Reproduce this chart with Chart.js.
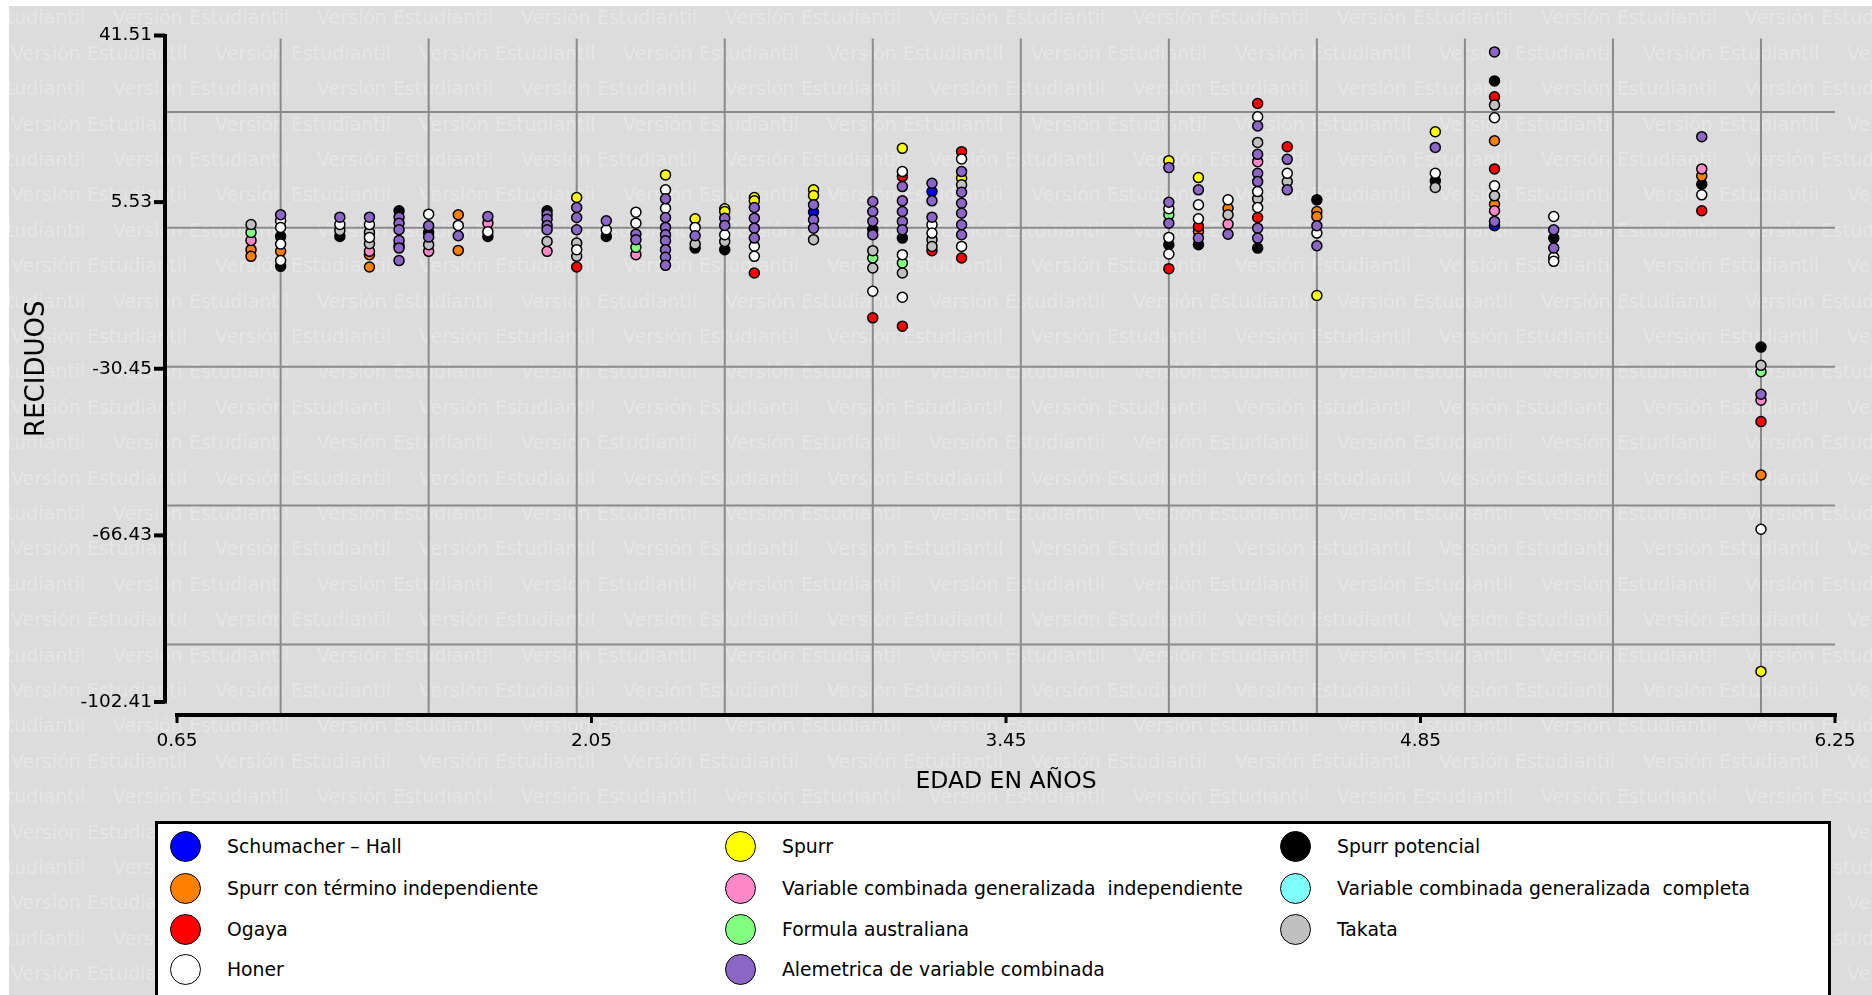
<!DOCTYPE html>
<html>
<head>
<meta charset="utf-8">
<title>Reciduos por edad</title>
<script src="https://cdn.jsdelivr.net/npm/chart.js"></script>
<style>
  body { margin: 0; background: #fff; overflow: hidden; }
  #wrap { position: relative; width: 1872px; height: 995px; overflow: hidden; }
  #chart { display: block; }
  #legend { position: absolute; left: 155px; top: 821px; width: 1670px; height: 200px; border: 3px solid #000; background: #fff; }
  .item { position: absolute; height: 31px; display: flex; align-items: center; font: 18.8px "DejaVu Sans", Verdana, sans-serif; color: #000; white-space: pre; }
  .dot { box-sizing: border-box; width: 31px; height: 31px; border: 1.5px solid #000; border-radius: 50%; flex: none; }
</style>
</head>
<body>
<div id="wrap">
  <canvas id="chart" width="1872" height="995"></canvas>
  <div id="legend"></div>
</div>
<script>
// axis ticks and grid positions
const xTicks = [0.65, 2.05, 3.45, 4.85, 6.25];
const yTicks = [41.51, 5.53, -30.45, -66.43, -102.41];
const xGrid = [1.0, 1.5, 2.0, 2.5, 3.0, 3.5, 4.0, 4.5, 5.0, 5.5, 6.0];
const yGrid = [25, 0, -30, -60, -90];

// series (legend order)
const seriesNames = [
  'Schumacher – Hall', 'Spurr', 'Spurr potencial',
  'Spurr con término independiente', 'Variable combinada generalizada  independiente', 'Variable combinada generalizada  completa',
  'Ogaya', 'Formula australiana', 'Takata',
  'Honer', 'Alemetrica de variable combinada'
];
const seriesColors = ['#0000ff', '#ffff00', '#000000', '#ff8000', '#ff88c8', '#80ffff', '#ff0000', '#80ff80', '#c0c0c0', '#ffffff', '#8c66c6'];

// [edad, reciduo] pairs
const schumacherHall = [[2.8, 3.36], [3.2, 7.81], [5.1, 0.43]];
const spurr = [[2.0, 6.52], [2.3, 11.41], [2.4, 1.94], [2.5, 4.09], [2.5, 3.51], [2.6, 6.52], [2.6, 5.81],
  [2.8, 8.18], [2.8, 6.95], [3.1, 17.14], [3.3, 10.68], [4.0, 14.49], [4.1, 10.83], [4.5, -14.64],
  [4.9, 20.73], [6.0, -95.8]];
const spurrPotencial = [[1.0, -1.87], [1.0, -8.33], [1.2, -1.87], [1.4, 3.66], [1.5, -1.01], [1.7, -1.87],
  [1.9, 3.66], [2.1, -1.87], [2.4, -4.39], [2.5, -4.74], [3.0, -0.4], [3.1, -2.24], [4.0, -3.66],
  [4.1, -3.66], [4.3, -4.39], [4.5, 6.03], [4.9, 10.12], [5.1, 31.71], [5.3, -2.24], [5.8, 9.39], [6.0, -25.77]];
const spurrIndep = [[0.9, -4.74], [0.9, -6.18], [1.0, -5.1], [1.3, -5.81], [1.3, -8.48], [1.4, -3.88],
  [1.6, 2.8], [1.6, -4.89], [4.1, -0.8], [4.2, 4.22], [4.5, 3.51], [4.5, 2.43], [5.1, 18.79], [5.1, 5.08],
  [5.8, 11.19], [6.0, -53.4]];
const vcgIndep = [[0.9, -2.73], [1.3, -5.1], [1.5, -5.1], [1.7, 0.99], [1.9, -5.1], [2.2, -5.81], [4.2, 0.78],
  [4.3, 14.27], [5.1, 3.66], [5.8, 12.7], [6.0, -37.25]];
const vcgCompleta = [];
const ogaya = [[2.0, -8.48], [2.6, -9.77], [3.0, -19.46], [3.1, 11.04], [3.1, -21.25], [3.2, -4.95],
  [3.3, 16.43], [3.3, -6.54], [4.0, -8.83], [4.1, 0.28], [4.3, 26.82], [4.3, 2.22], [4.4, 17.5],
  [5.1, 28.27], [5.1, 12.7], [5.8, 3.66], [6.0, -41.86]];
const formulaAustraliana = [[0.9, -1.01], [2.2, -4.24], [3.0, -6.54], [3.1, -7.62], [4.0, 2.8], [6.0, -31.09]];
const takata = [[0.9, 0.71], [1.2, -0.58], [1.3, -1.01], [1.3, -3.44], [1.5, -3.66], [1.9, -2.95],
  [2.0, -3.31], [2.0, -6.18], [2.4, -3.53], [2.5, -2.95], [2.8, -2.58], [3.0, -4.95], [3.0, -8.7],
  [3.1, -9.77], [3.2, -2.58], [3.2, -4.03], [3.3, 9.26], [4.2, 2.8], [4.3, 18.43], [4.3, 6.24],
  [4.4, 9.97], [4.9, 8.68], [5.1, 26.48], [5.1, 6.89], [6.0, -29.71]];
const honer = [[1.0, 1.51], [1.0, 0.07], [1.0, -3.53], [1.0, -7.1], [1.2, 0.71], [1.3, 0.71], [1.3, -2.09],
  [1.5, 2.93], [1.6, 0.5], [1.7, -0.86], [2.0, -4.74], [2.1, -0.43], [2.2, 3.36], [2.2, 0.99], [2.3, 8.18],
  [2.3, 4.22], [2.4, 0.07], [2.5, -1.51], [2.6, -4.0], [2.6, -6.18], [3.0, -13.71], [3.1, 12.12],
  [3.1, -5.81], [3.1, -15.0], [3.2, 0.65], [3.2, -1.16], [3.3, 14.86], [3.3, -4.03], [4.0, 4.09],
  [4.0, -2.09], [4.0, -5.68], [4.1, 4.95], [4.1, 1.94], [4.2, 6.03], [4.3, 23.96], [4.3, 7.81],
  [4.3, 4.37], [4.4, 11.75], [4.5, -1.16], [4.9, 11.75], [5.1, 23.75], [5.1, 9.04], [5.3, 2.43],
  [5.3, -6.39], [5.3, -7.25], [5.8, 7.1], [6.0, -65.1]];
const alemetrica = [[1.0, 2.8], [1.2, 2.28], [1.3, 2.28], [1.4, 2.28], [1.4, 0.99], [1.4, -0.43], [1.4, -2.73],
  [1.4, -4.39], [1.4, -7.1], [1.5, 0.43], [1.5, -2.02], [1.6, -1.72], [1.7, 2.43], [1.9, 2.8], [1.9, 1.85],
  [1.9, 0.5], [1.9, -0.43], [2.0, 4.37], [2.0, 2.22], [2.0, -0.43], [2.1, 1.51], [2.2, -1.38], [2.2, -2.58],
  [2.3, 6.24], [2.3, 2.22], [2.3, 0.07], [2.3, -1.51], [2.3, -2.8], [2.3, -4.74], [2.3, -6.39], [2.3, -8.12],
  [2.4, -1.72], [2.5, 2.07], [2.5, 0.5], [2.6, 4.37], [2.6, 2.07], [2.6, -0.09], [2.6, -2.24], [2.8, 4.95],
  [2.8, 1.72], [2.8, -0.09], [3.0, 5.66], [3.0, 3.51], [3.0, 1.4], [3.0, -1.51], [3.1, 8.89], [3.1, 5.81],
  [3.1, 3.51], [3.1, 1.36], [3.1, -0.43], [3.2, 9.6], [3.2, 5.81], [3.2, 2.28], [3.3, 12.12], [3.3, 7.66],
  [3.3, 5.29], [3.3, 3.14], [3.3, 0.65], [3.3, -1.51], [4.0, 12.98], [4.0, 5.51], [4.0, 0.99], [4.1, 8.18],
  [4.1, -2.24], [4.2, -1.38], [4.3, 21.96], [4.3, 15.85], [4.3, 11.75], [4.3, 9.97], [4.3, -0.09],
  [4.3, -2.24], [4.4, 14.77], [4.4, 8.18], [4.5, 0.43], [4.5, -3.88], [4.9, 17.35], [5.1, 37.96],
  [5.1, 1.36], [5.3, -0.43], [5.3, -4.39], [5.8, 19.66], [6.0, -35.96]];

const seriesData = [schumacherHall, spurr, spurrPotencial, spurrIndep, vcgIndep, vcgCompleta,
  ogaya, formulaAustraliana, takata, honer, alemetrica];

const FONT = '"DejaVu Sans", Verdana, sans-serif';

// background, watermark, detached axes and grid
const frame = {
  id: 'frame',
  beforeDraw(chart) {
    const ctx = chart.ctx;
    ctx.save();
    ctx.fillStyle = '#fff';
    ctx.fillRect(0, 0, chart.width, chart.height);
    ctx.fillStyle = '#dcdcdc';
    ctx.fillRect(9, 6, chart.width - 9, chart.height - 6);
    ctx.beginPath();
    ctx.rect(9, 6, chart.width - 9, chart.height - 6);
    ctx.clip();
    ctx.fillStyle = '#e5e5e5';
    ctx.font = '19px ' + FONT;
    ctx.textBaseline = 'middle';
    for (let r = 0; r < 29; r++) {
      const y = 19.5 + r * 35.4;
      const start = (r % 2 === 0 ? 113 : 11) - 204;
      for (let x = start; x < chart.width; x += 204) ctx.fillText('Versión Estudiantil', x, y);
    }
    ctx.restore();
  },
  beforeDatasetsDraw(chart) {
    const { ctx, chartArea: a, scales: { x, y } } = chart;
    const line = (x1, y1, x2, y2) => { ctx.beginPath(); ctx.moveTo(x1, y1); ctx.lineTo(x2, y2); ctx.stroke(); };
    const axisX = a.left - 12;
    const axisY = a.bottom + 13;
    ctx.save();
    ctx.strokeStyle = '#8a8a8a';
    ctx.lineWidth = 2;
    yGrid.forEach(v => { const py = y.getPixelForValue(v); line(axisX, py, a.right, py); });
    xGrid.forEach(v => { const px = x.getPixelForValue(v); line(px, a.top + 3, px, axisY); });
    ctx.strokeStyle = '#000';
    ctx.lineWidth = 4;
    line(axisX, a.top - 1.5, axisX, a.bottom + 1.5);
    yTicks.forEach(v => { const py = y.getPixelForValue(v); line(axisX - 11, py, axisX, py); });
    line(a.left - 2, axisY, a.right + 2, axisY);
    ctx.lineWidth = 3;
    xTicks.forEach(v => { const px = x.getPixelForValue(v); line(px, axisY, px, axisY + 8); });
    ctx.restore();
  }
};

new Chart(document.getElementById('chart'), {
  type: 'scatter',
  data: {
    datasets: seriesNames.map((name, i) => ({
      label: name,
      data: seriesData[i].map(p => ({ x: p[0], y: p[1] })),
      backgroundColor: seriesColors[i],
      borderColor: '#000',
      borderWidth: 1.5,
      pointRadius: 5,
      order: seriesNames.length - i,
      clip: false
    }))
  },
  options: {
    responsive: false,
    animation: false,
    devicePixelRatio: 1,
    layout: { padding: { top: 35.5, right: 37, bottom: 191, left: 0 } },
    plugins: { legend: { display: false }, tooltip: { enabled: false } },
    scales: {
      x: {
        type: 'linear',
        min: 0.65,
        max: 6.25,
        afterBuildTicks: s => { s.ticks = xTicks.map(v => ({ value: v })); },
        afterFit: s => { s.height = 102; s.paddingLeft = 0; s.paddingRight = 0; },
        grid: { display: false, drawTicks: false },
        border: { display: false },
        ticks: { padding: 28, color: '#000', font: { family: FONT, size: 18.5 }, maxRotation: 0, autoSkip: false,
          callback: v => Number(v).toFixed(2) },
        title: { display: true, text: 'EDAD EN AÑOS', color: '#000', font: { family: FONT, size: 23.5 },
          padding: { top: 0, bottom: 8 } }
      },
      y: {
        type: 'linear',
        min: -102.41,
        max: 41.51,
        afterBuildTicks: s => { s.ticks = yTicks.map(v => ({ value: v })); },
        afterFit: s => { s.width = 177; s.paddingTop = 0; s.paddingBottom = 0; },
        grid: { display: false, drawTicks: false },
        border: { display: false },
        ticks: { padding: 25, color: '#000', font: { family: FONT, size: 18.5 }, autoSkip: false,
          callback: v => Number(v).toFixed(2) },
        title: { display: true, text: 'RECIDUOS', color: '#000', font: { family: FONT, size: 26 },
          padding: { top: 22, bottom: 0 } }
      }
    }
  },
  plugins: [frame]
});

// legend box, 3 columns, row-major like the original
const wrap = document.getElementById('wrap');
const legendCols = [185, 740, 1295];
const legendRows = [846.5, 888, 929, 969.5];
seriesNames.forEach((name, i) => {
  const el = document.createElement('div');
  el.className = 'item';
  el.style.left = (legendCols[i % 3] - 15.5) + 'px';
  el.style.top = (legendRows[Math.floor(i / 3)] - 15.5) + 'px';
  const dot = document.createElement('span');
  dot.className = 'dot';
  dot.style.background = seriesColors[i];
  const txt = document.createElement('span');
  txt.style.marginLeft = '26.5px';
  txt.textContent = name;
  el.appendChild(dot);
  el.appendChild(txt);
  wrap.appendChild(el);
});
</script>
</body>
</html>
